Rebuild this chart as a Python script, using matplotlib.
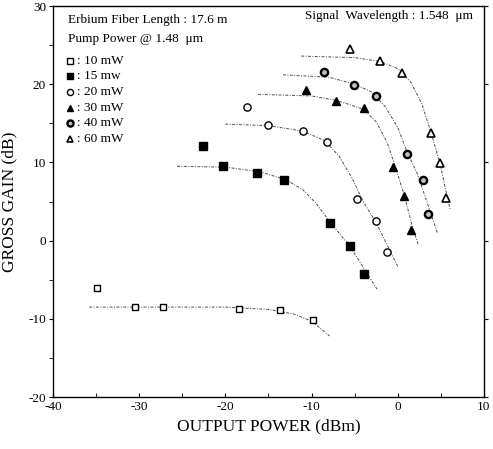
import matplotlib.pyplot as plt

plt.rcParams['font.family'] = ['Liberation Serif', 'DejaVu Serif']
plt.rcParams['axes.unicode_minus'] = False

# measured points (output power dBm, gross gain dB)
p10_x = [-34.9, -30.5, -27.2, -18.4, -13.7, -9.8]
p10_y = [-6.1, -8.5, -8.5, -8.7, -8.9, -10.2]
p15_x = [-22.6, -20.3, -16.3, -13.2, -7.8, -5.5, -3.9]
p15_y = [12.1, 9.5, 8.7, 7.7, 2.2, -0.7, -4.3]
p20_x = [-17.5, -15.0, -11.0, -8.25, -4.7, -2.5, -1.3]
p20_y = [17.1, 14.8, 14.0, 12.6, 5.3, 2.5, -1.4]
p30_x = [-10.6, -7.2, -3.9, -0.5, 0.75, 1.6]
p30_y = [19.3, 17.8, 16.9, 9.4, 5.7, 1.4]
p40_x = [-8.6, -5.1, -2.5, 1.1, 2.9, 3.5]
p40_y = [21.5, 19.9, 18.5, 11.1, 7.7, 3.4]
p60_x = [-5.5, -2.1, 0.45, 3.85, 4.9, 5.6]
p60_y = [24.5, 23.0, 21.4, 13.7, 9.9, 5.5]

# fitted curves
f10_x = [-35.8, -20, -15, -12, -10, -7.9]
f10_y = [-8.5, -8.5, -8.8, -9.4, -10.3, -12.2]
f15_x = [-25.6, -20, -16, -13, -11, -9.5, -7.8, -5.5, -3.9, -2.4]
f15_y = [9.5, 9.4, 8.8, 7.8, 6.5, 4.8, 2.3, -0.8, -3.6, -6.2]
f20_x = [-20, -15, -11, -8.5, -6.8, -5.3, -4, -2.5, -1.2, 0.0]
f20_y = [14.9, 14.7, 14.0, 12.8, 10.8, 8.0, 5.0, 2.3, -0.6, -3.3]
f30_x = [-16.2, -10, -7, -4, -2.5, -1.2, -0.3, 0.8, 1.6, 2.4]
f30_y = [18.7, 18.5, 17.9, 16.8, 15.2, 12.5, 9.5, 5.7, 2.2, -0.6]
f40_x = [-13.3, -8, -5, -3, -1.5, 0, 1.1, 2.3, 3.5, 4.6]
f40_y = [21.2, 20.9, 20.0, 19.0, 17.2, 14.5, 11.3, 8.5, 4.6, 1.0]
f60_x = [-11.2, -5, -2, 0, 1.5, 2.8, 3.9, 4.9, 5.6, 6.1]
f60_y = [23.6, 23.4, 22.9, 22.0, 20.3, 17.5, 13.7, 9.9, 6.3, 3.9]

labels = ['10 mW', '15 mw', '20 mW', '30 mW', '40 mW', '60 mW']

fig = plt.figure(figsize=(4.93, 4.49), dpi=100)
ax = fig.add_axes([0.1075, 0.1158, 0.874, 0.8708])

fit_style = dict(color='0.3', lw=0.7, linestyle=(0, (3, 1.5, 1, 1.5)))
for fx, fy in [(f10_x, f10_y), (f15_x, f15_y), (f20_x, f20_y),
               (f30_x, f30_y), (f40_x, f40_y), (f60_x, f60_y)]:
    ax.plot(fx, fy, **fit_style)

mk = [
    dict(marker='s', mfc='white', mec='black', ms=4.8, mew=1.0),
    dict(marker='s', mfc='black', mec='black', ms=5.2, mew=1.0),
    dict(marker='o', mfc='white', mec='black', ms=5.2, mew=1.0),
    dict(marker='^', mfc='black', mec='black', ms=5.6, mew=1.0),
    dict(marker='o', mfc='0.75', mec='black', ms=5.2, mew=1.7),
    dict(marker='^', mfc='white', mec='black', ms=5.6, mew=1.2),
]
pts = [(p10_x, p10_y), (p15_x, p15_y), (p20_x, p20_y),
       (p30_x, p30_y), (p40_x, p40_y), (p60_x, p60_y)]
for (px, py), m in zip(pts, mk):
    ax.plot(px, py, linestyle='none', **m)

ax.set_xlim(-40, 10)
ax.set_ylim(-20, 30)
ax.set_xticks([-40, -30, -20, -10, 0, 10])
ax.set_yticks([-20, -10, 0, 10, 20, 30])
ax.set_xticks(range(-35, 10, 10), minor=True)
ax.set_yticks(range(-15, 30, 10), minor=True)
ax.tick_params(axis='x', which='both', direction='in', labelsize=9.5, length=3, pad=3)
ax.tick_params(axis='y', which='both', direction='out', labelsize=9.5, length=3, pad=2)
ax.tick_params(axis='y', which='major', right=True)
for s in ax.spines.values():
    s.set_linewidth(1.0)

ax.set_xlabel('OUTPUT POWER (dBm)', fontsize=12.5, labelpad=4)
ax.set_ylabel('GROSS GAIN (dB)', fontsize=12.5, labelpad=8)

ax.text(0.035, 0.965, 'Erbium Fiber Length : 17.6 m', transform=ax.transAxes,
        fontsize=9.5, va='center', ha='left')
ax.text(0.035, 0.915, 'Pump Power @ 1.48  \u03bcm', transform=ax.transAxes,
        fontsize=9.5, va='center', ha='left')
ax.text(0.975, 0.975, 'Signal  Wavelength : 1.548  \u03bcm', transform=ax.transAxes,
        fontsize=9.5, va='center', ha='right')

# legend as marker + text rows
for i, (lab, m) in enumerate(zip(labels, mk)):
    yy = 0.86 - i * 0.04
    m2 = dict(m)
    m2['ms'] = m['ms'] * 0.85
    ax.plot([0.04], [yy], transform=ax.transAxes, linestyle='none', **m2)
    ax.text(0.055, yy, ': ' + lab, transform=ax.transAxes, fontsize=9.5,
            va='center', ha='left')

fig.savefig('out.png', dpi=100)
